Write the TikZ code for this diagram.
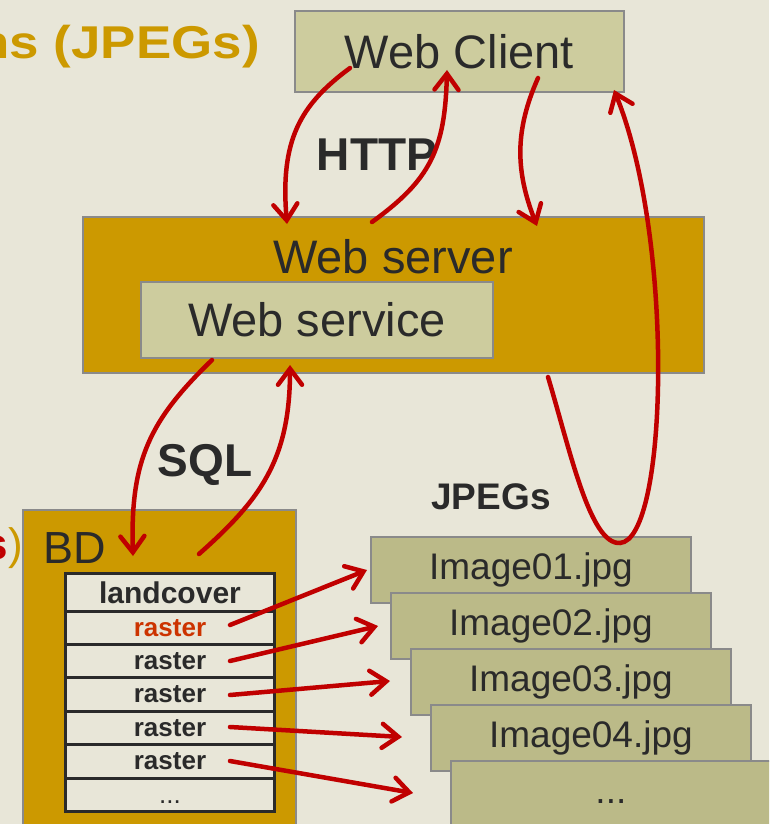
\documentclass[tikz,border=0pt]{standalone}
\usepackage{fontspec}
\setmainfont{Liberation Sans}
\usetikzlibrary{arrows.meta}
\definecolor{bgc}{HTML}{E8E6D8}
\definecolor{gold}{HTML}{CC9900}
\definecolor{olivelt}{HTML}{CDCC9E}
\definecolor{olivedk}{HTML}{BBBA88}
\definecolor{boxgray}{HTML}{8A8A8A}
\definecolor{arrred}{HTML}{C00000}
\definecolor{rastred}{HTML}{CC3300}
\definecolor{txt}{HTML}{2A2A2A}
\newcommand{\fs}[1]{\fontsize{#1}{#1}\selectfont}
\tikzset{
  x=1pt,y=-1pt,
  box/.style={draw=boxgray,line width=1.8pt,inner sep=0pt,anchor=north west,text=txt},
  lbox/.style={box,fill=olivelt},
  gbox/.style={box,fill=gold},
  ibox/.style={box,fill=olivedk,minimum width=320pt,minimum height=66pt,font=\fs{37}},
  row/.style={draw=txt,line width=3pt,fill=bgc,inner sep=0pt,anchor=north west,minimum width=209pt,text=txt},
  lbl/.style={text=txt,inner sep=0pt},
  conn/.style={draw=arrred,line width=4.5pt,line cap=round,-{Straight Barb[length=16pt,width=24pt,line cap=round]}},
}
\begin{document}
\begin{tikzpicture}
\useasboundingbox (0,0) rectangle (769,824);
\clip (0,0) rectangle (769,824);
\fill[bgc] (0,0) rectangle (769,824);

% title fragments
\node[anchor=east,inner sep=0pt,text=gold,font=\fs{46}\bfseries] (title) at (260,47) {\scalebox{1.15}[1]{ns (JPEGs)}};
\node[anchor=east,inner sep=0pt,font=\fs{44}] (sparen) at (23,548) {\textcolor{arrred}{\bfseries s}\textcolor{gold}{)}};

% web client
\node[lbox,minimum width=329pt,minimum height=81pt,font=\fs{47}] (wc) at (294,10) {Web Client};

% web server
\node[gbox,minimum width=621pt,minimum height=156pt] (ws) at (82,216) {};
\node[lbl,font=\fs{47}] (wslbl) at (393,257) {Web server};
\node[lbox,minimum width=352pt,minimum height=76pt,font=\fs{47}] (wsv) at (140,281) {Web service};

% labels
\node[lbl,font=\fs{46}\bfseries] (http) at (377,155) {HTTP};
\node[lbl,font=\fs{46}\bfseries] (sql) at (205,465) {SQL};
\node[lbl,font=\fs{37}\bfseries] (jpegs) at (491,497) {JPEGs};

% BD
\node[gbox,minimum width=273pt,minimum height=330pt] (bd) at (22,509) {};
\node[lbl,font=\fs{45}] (bdlbl) at (75,548) {BD};

% table
\node[row,minimum height=38pt,font=\fs{30}\bfseries] (r0) at (64,572) {landcover};
\node[row,minimum height=33pt,font=\fs{26}\bfseries,text=rastred] (r1) at (64,610) {raster};
\node[row,minimum height=33pt,font=\fs{26}\bfseries] (r2) at (64,643) {raster};
\node[row,minimum height=34pt,font=\fs{26}\bfseries] (r3) at (64,676) {raster};
\node[row,minimum height=33pt,font=\fs{26}\bfseries] (r4) at (64,710) {raster};
\node[row,minimum height=34pt,font=\fs{26}\bfseries] (r5) at (64,743) {raster};
\node[row,minimum height=33pt,font=\fs{26}] (r6) at (64,777) {\vphantom{raster}...};

% image stack
\node[ibox] (i1) at (370,536) {Image01.jpg};
\node[ibox] (i2) at (390,592) {Image02.jpg};
\node[ibox] (i3) at (410,648) {Image03.jpg};
\node[ibox] (i4) at (430,704) {Image04.jpg};
\node[ibox] (i5) at (450,760) {\vphantom{Ij}...};

% connector end points
\coordinate (a1s) at (350,68);  \coordinate (a1e) at (287,224);
\coordinate (a2s) at (372,222); \coordinate (a2e) at (447,70);
\coordinate (a3s) at (538,78);  \coordinate (a3e) at (537,226);
\coordinate (a4s) at (548,377); \coordinate (a4m) at (620,543); \coordinate (a4e) at (614,90);
\coordinate (a5s) at (212,360); \coordinate (a5e) at (133,556);
\coordinate (a6s) at (199,554); \coordinate (a6e) at (290,365);
\coordinate (b1s) at (230,625); \coordinate (b1e) at (367,570);
\coordinate (b2s) at (230,661); \coordinate (b2e) at (378,626);
\coordinate (b3s) at (230,695); \coordinate (b3e) at (390,681);
\coordinate (b4s) at (230,727); \coordinate (b4e) at (402,737);
\coordinate (b5s) at (230,761); \coordinate (b5e) at (413,793);

% connectors
\draw[conn] (a1s) .. controls (300,105) and (280,140) .. (a1e);
\draw[conn] (a2s) .. controls (430,180) and (445,150) .. (a2e);
\draw[conn] (a3s) .. controls (515,130) and (515,170) .. (a3e);
\draw[conn] (a4s) .. controls (570,450) and (590,545) .. (a4m) .. controls (668,540) and (675,240) .. (a4e);
\draw[conn] (a5s) .. controls (150,420) and (130,460) .. (a5e);
\draw[conn] (a6s) .. controls (260,500) and (290,460) .. (a6e);
\draw[conn] (b1s) -- (b1e);
\draw[conn] (b2s) -- (b2e);
\draw[conn] (b3s) -- (b3e);
\draw[conn] (b4s) -- (b4e);
\draw[conn] (b5s) -- (b5e);
\end{tikzpicture}
\end{document}
